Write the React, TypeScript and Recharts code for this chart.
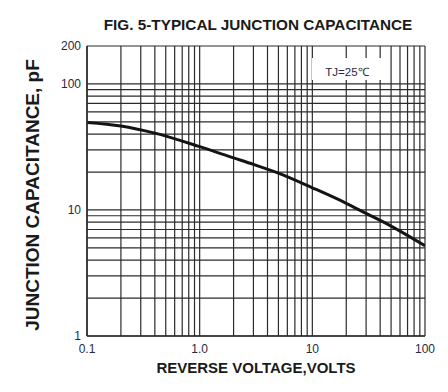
import React from "react";
import { LineChart, Line, XAxis, YAxis, CartesianGrid } from "recharts";

const voltage = [0.1, 0.2, 0.4, 1, 2, 3, 5, 10, 20, 30, 50, 100];
const capacitance = [49.5, 46.4, 40.7, 31.8, 25.9, 23.0, 19.6, 15.0, 11.3, 9.4, 7.45, 5.2];

const xTicks = [
  0.1, 0.2, 0.3, 0.4, 0.5, 0.6, 0.7, 0.8, 0.9,
  1, 2, 3, 4, 5, 6, 7, 8, 9,
  10, 20, 30, 40, 50, 60, 70, 80, 90, 100,
];
const xTickLabels: Record<string, string> = { "0.1": "0.1", "1": "1.0", "10": "10", "100": "100" };

const yTicks = [
  1, 2, 3, 4, 5, 6, 7, 8, 9,
  10, 20, 30, 40, 50, 60, 70, 80, 90, 100, 200,
];
const yTickLabels: Record<string, string> = { "1": "1", "10": "10", "100": "100", "200": "200" };

const data = voltage.map((v, i) => ({ v, c: capacitance[i] }));

const TEXT = "#1a1a1a";
const TICK = "#1f2a44";
const GRID = "#2b2b2b";
const FONT = "'Liberation Sans', Arial, sans-serif";

export default function App() {
  return (
    <div style={{ position: "absolute", left: 0, top: 0, width: 448, height: 392, background: "#fff", fontFamily: FONT }}>
      <LineChart
        width={448}
        height={392}
        data={data}
        margin={{ top: 46, right: 23, bottom: 26, left: 30 }}
      >
        <CartesianGrid stroke={GRID} strokeWidth={1.2} horizontalValues={yTicks} verticalValues={xTicks} />
        <XAxis
          dataKey="v"
          type="number"
          scale="log"
          domain={[0.1, 100]}
          ticks={xTicks}
          interval={0}
          tickLine={false}
          axisLine={{ stroke: GRID, strokeWidth: 1.5 }}
          height={30}
          tickFormatter={(t: number) => xTickLabels[String(t)] ?? ""}
          tick={{ fill: TICK, fontSize: 12, fontFamily: FONT }}
          tickMargin={2}
          allowDataOverflow
        />
        <YAxis
          type="number"
          scale="log"
          domain={[1, 200]}
          ticks={yTicks}
          interval={0}
          tickLine={false}
          axisLine={{ stroke: GRID, strokeWidth: 1.5 }}
          width={57}
          tickFormatter={(t: number) => yTickLabels[String(t)] ?? ""}
          tick={{ fill: TICK, fontSize: 12, fontFamily: FONT }}
          tickMargin={0}
          allowDataOverflow
        />
        <Line
          dataKey="c"
          type="monotone"
          stroke="#141414"
          strokeWidth={3}
          dot={false}
          isAnimationActive={false}
        />
      </LineChart>
      <svg
        width={448}
        height={392}
        style={{ position: "absolute", left: 0, top: 0, pointerEvents: "none" }}
      >
        <text x={258} y={30} textAnchor="middle" fontSize={15.3} fontWeight="bold" fill={TEXT} fontFamily={FONT}>
          FIG. 5-TYPICAL JUNCTION CAPACITANCE
        </text>
        <text
          x={0}
          y={0}
          transform="translate(39,195) rotate(-90)"
          textAnchor="middle"
          fontSize={19}
          fontWeight="bold"
          fill={TEXT}
          fontFamily={FONT}
        >
          JUNCTION CAPACITANCE, pF
        </text>
        <text x={256} y={373} textAnchor="middle" fontSize={15} fontWeight="bold" fill={TEXT} fontFamily={FONT}>
          REVERSE VOLTAGE,VOLTS
        </text>
        <rect x={312} y={58} width={71} height={22} fill="#fff" />
        <text x={347} y={76} textAnchor="middle" fontSize={11.5} fill={TICK} fontFamily={FONT}>
          TJ=25℃
        </text>
      </svg>
    </div>
  );
}
